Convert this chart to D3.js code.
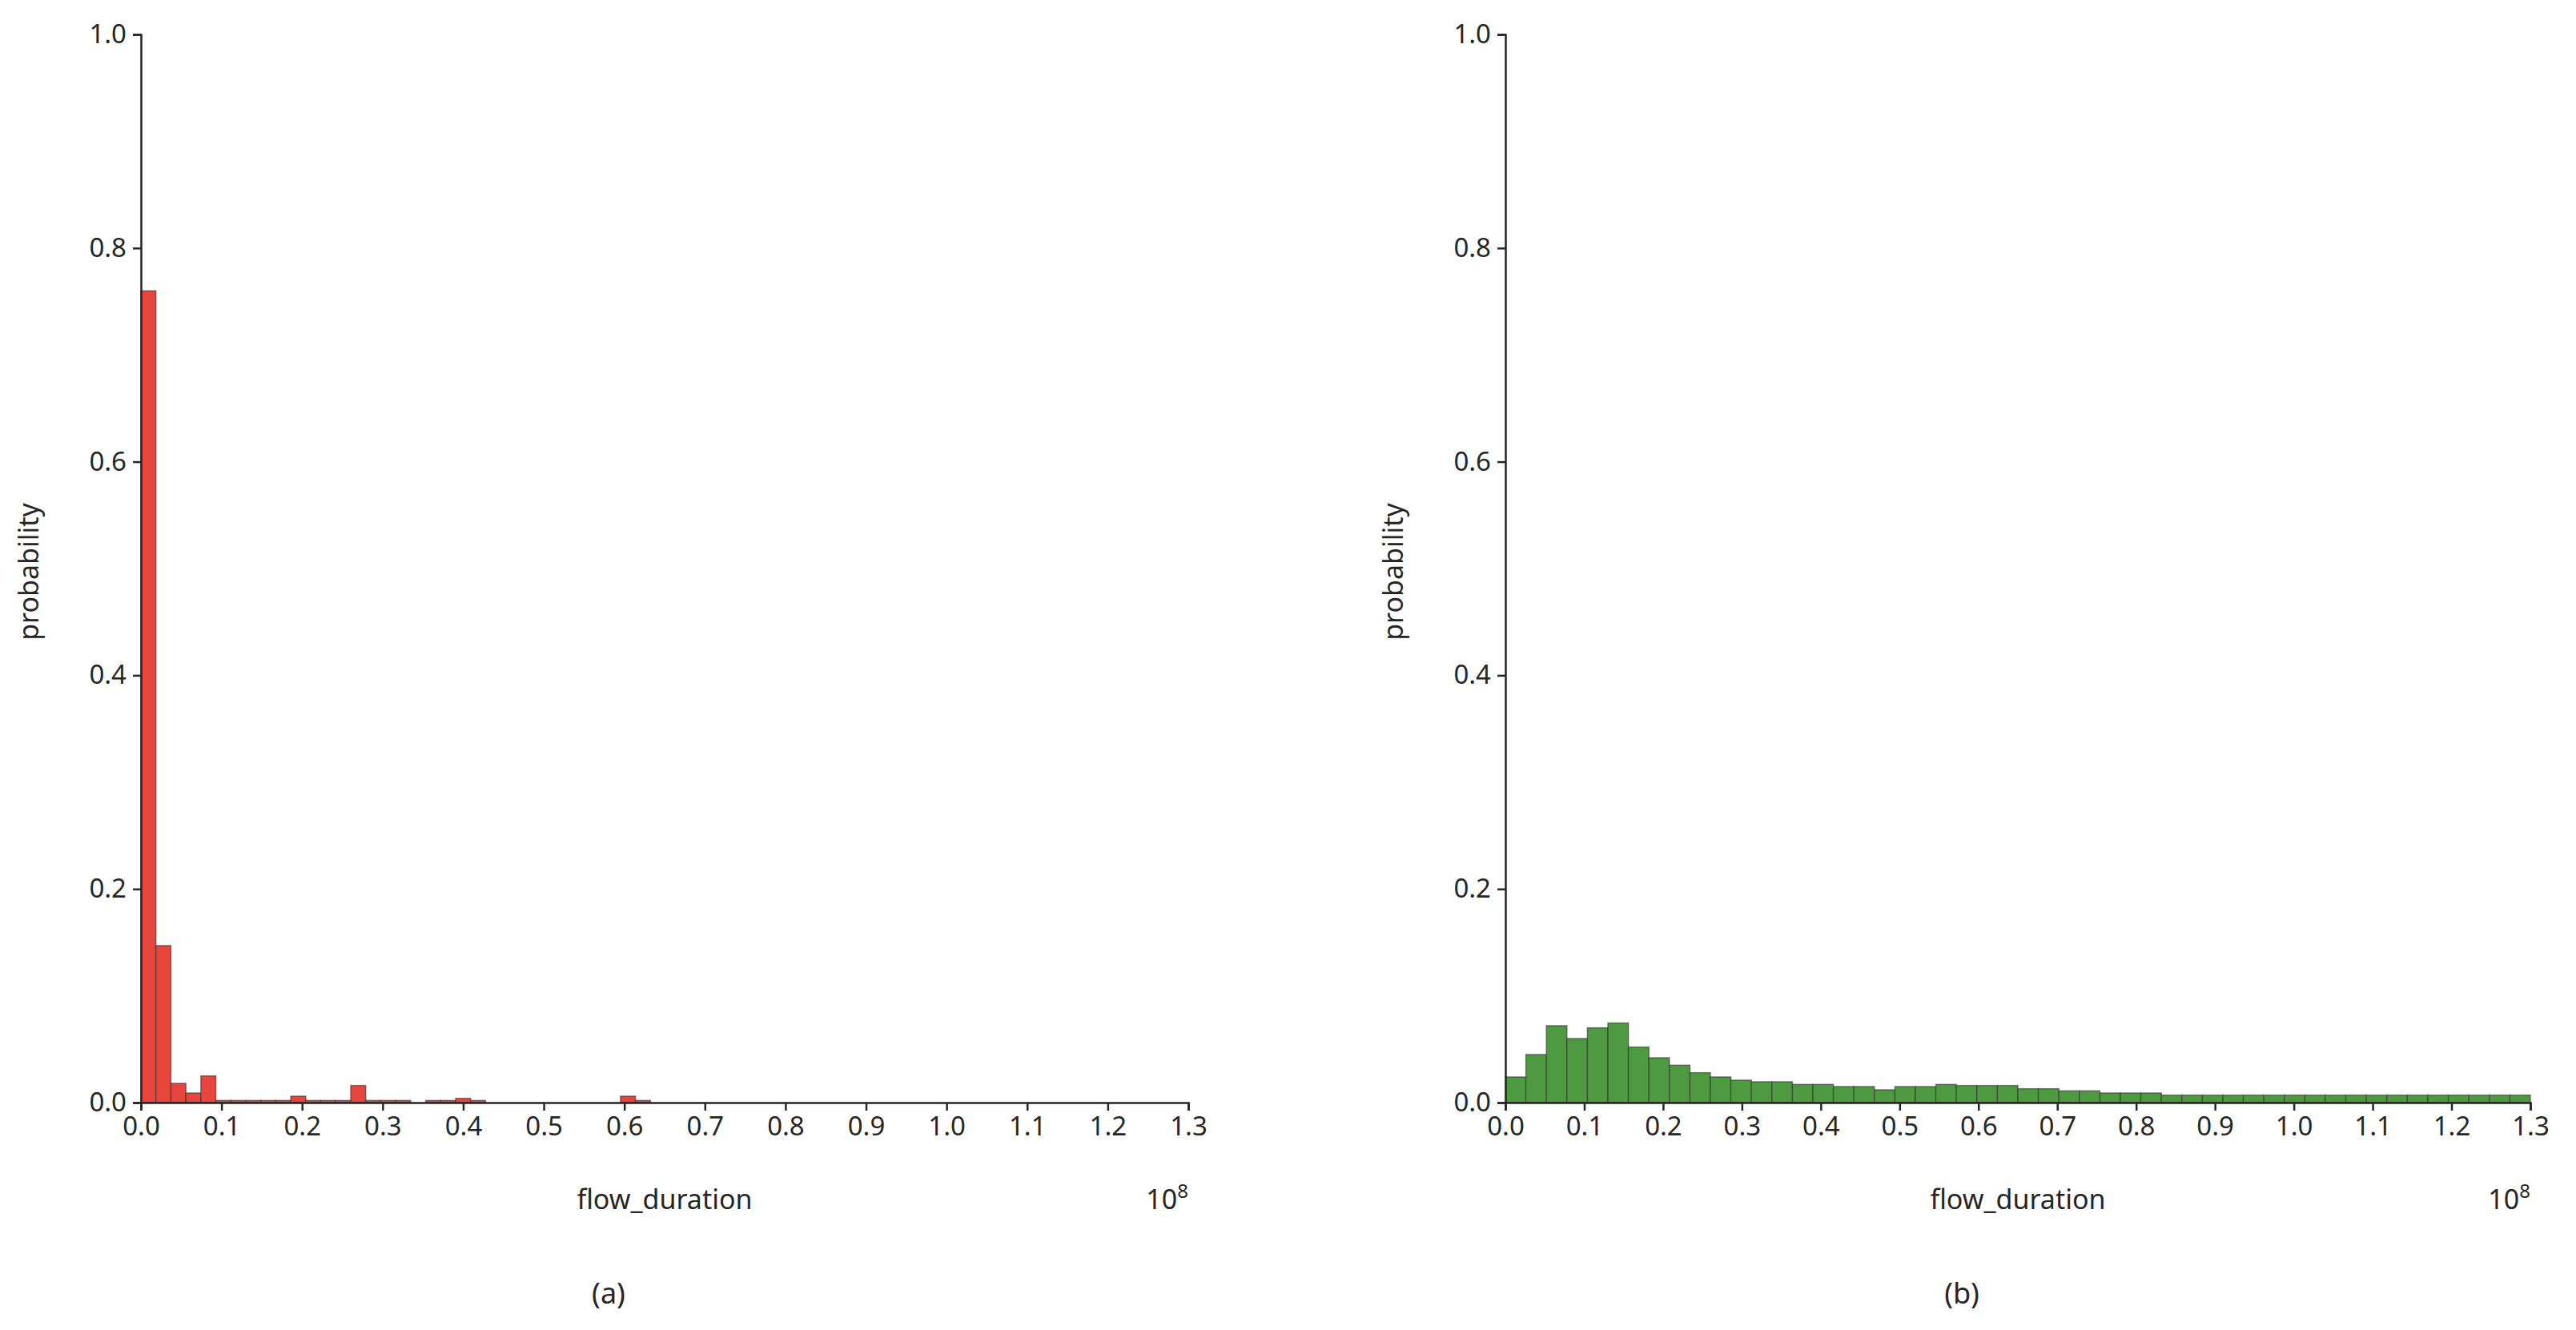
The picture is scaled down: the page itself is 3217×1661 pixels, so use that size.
<!DOCTYPE html>
<html><head><meta charset="utf-8">
<script src="https://cdn.jsdelivr.net/npm/d3@7"></script>
<style>body{margin:0;background:#fff}text{font-family:"Noto Sans","Open Sans",sans-serif;fill:#262626}</style>
</head><body>
<svg id="c" width="3217" height="1661"></svg>
<script>
const xTicks = [0,0.1,0.2,0.3,0.4,0.5,0.6,0.7,0.8,0.9,1.0,1.1,1.2,1.3];
const yTicks = [0,0.2,0.4,0.6,0.8,1.0];
// left panel (a): bin width 0.0186e8
const binWidthA = 0.0186;
const valuesA = [0.76,0.147,0.018,0.009,0.025,0.002,0.002,0.002,0.002,0.002,0.006,0.002,0.002,0.002,0.016,0.002,0.002,0.002,0,0.002,0.002,0.004,0.002,0,0,0,0,0,0,0,0,0,0.006,0.002];
// right panel (b): 50 bins over 0..1.3e8
const binWidthB = 0.026;
const valuesB = [0.024,0.045,0.072,0.060,0.070,0.0745,0.052,0.042,0.035,0.028,0.024,0.021,0.0195,0.0195,0.017,0.017,0.015,0.015,0.012,0.015,0.015,0.017,0.016,0.016,0.016,0.013,0.013,0.011,0.011,0.009,0.009,0.009,0.007,0.007,0.007,0.007,0.007,0.007,0.007,0.007,0.007,0.007,0.007,0.007,0.007,0.007,0.007,0.007,0.007,0.007];

const svg = d3.select("#c");
function panel(x0, x1, values, bw, fill, label, ylabX){
  const x = d3.scaleLinear().domain([0,1.3]).range([x0,x1]);
  const y = d3.scaleLinear().domain([0,1]).range([1377,43]);
  const g = svg.append("g");
  g.selectAll("rect").data(values).join("rect")
    .attr("x",(d,i)=>x(i*bw)).attr("width",(d,i)=>x((i+1)*bw)-x(i*bw))
    .attr("y",d=>y(d)).attr("height",d=>y(0)-y(d))
    .attr("fill",fill).attr("stroke","#333").attr("stroke-opacity",0.6).attr("stroke-width",1.5);
  const xa = g.append("g").attr("transform","translate(0,1377)")
    .call(d3.axisBottom(x).tickValues(xTicks).tickFormat(d3.format(".1f")).tickSize(10).tickPadding(8));
  const ya = g.append("g").attr("transform",`translate(${x0},0)`)
    .call(d3.axisLeft(y).tickValues(yTicks).tickFormat(d3.format(".1f")).tickSize(10).tickPadding(8));
  [xa,ya].forEach(a=>{a.selectAll("text").attr("font-size",33).style("fill","#262626");
    a.selectAll("line,path").attr("stroke","#262626").attr("stroke-width",2.5);});
  g.append("text").attr("x",(x0+x1)/2).attr("y",1510).attr("text-anchor","middle").attr("font-size",34).text("flow_duration");
  const t = g.append("text").attr("x",x1).attr("y",1510).attr("text-anchor","end").attr("font-size",34).text("10");
  t.append("tspan").attr("dy",-14).attr("font-size",24).text("8");
  g.append("text").attr("transform",`translate(${ylabX},714) rotate(-90)`).attr("text-anchor","middle").attr("font-size",34).text("probability");
  g.append("text").attr("x",(x0+x1)/2-70).attr("y",1628).attr("text-anchor","middle").attr("font-size",36).text(label);
}
panel(176,1484,valuesA,binWidthA,"#e8453c","(a)",48);
panel(1880,3160,valuesB,binWidthB,"#4e9a40","(b)",1752);
</script>
</body></html>
